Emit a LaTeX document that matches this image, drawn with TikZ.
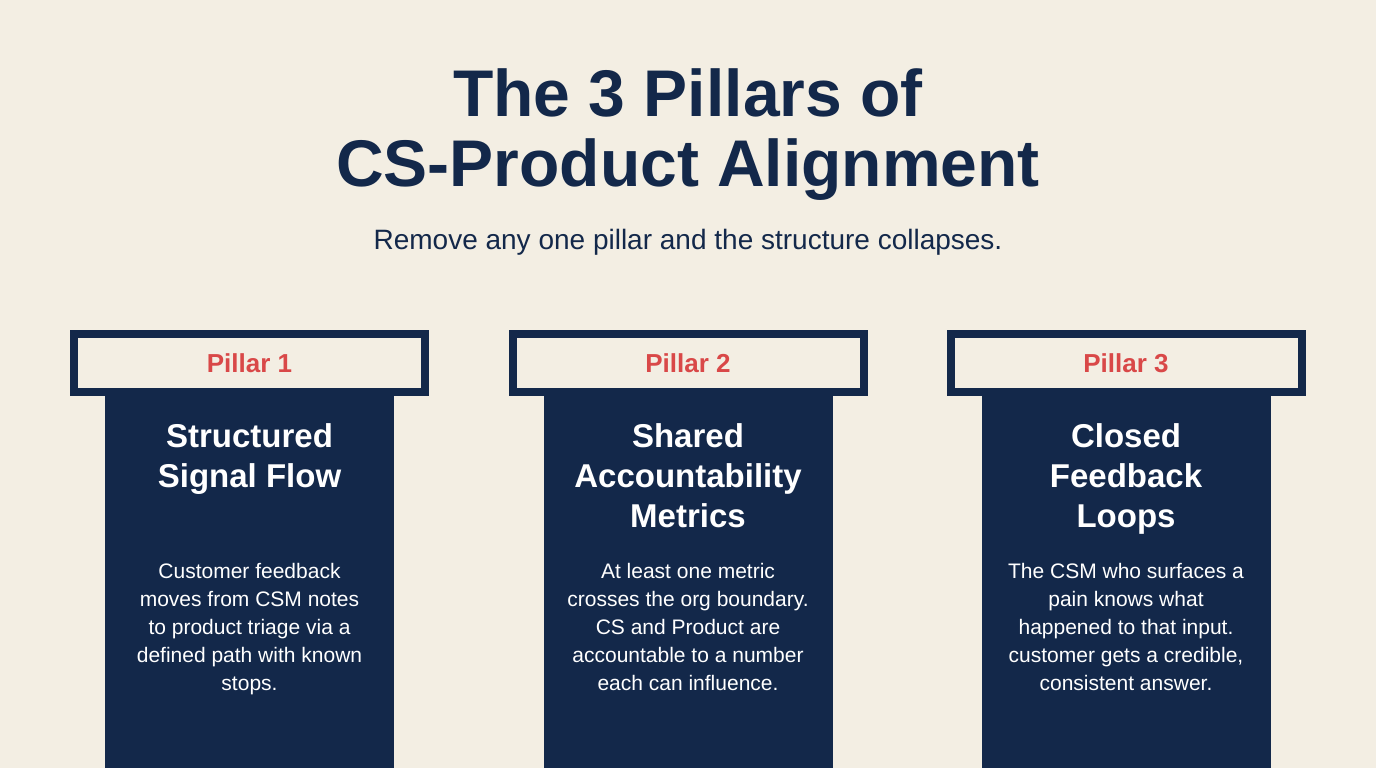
\documentclass[tikz,border=0pt]{standalone}
\usepackage{fontspec}
\setmainfont{Liberation Sans}
\definecolor{bg}{HTML}{F3EEE3}
\definecolor{navy}{HTML}{13284A}
\definecolor{pred}{HTML}{D94848}
\begin{document}
\begin{tikzpicture}[x=1pt,y=-1pt,
  pcap/.style={draw=navy,line width=8pt,fill=bg},
  lab/.style={font=\fontsize{26}{30}\selectfont\bfseries,text=pred},
  head/.style={font=\fontsize{33}{40}\selectfont\bfseries,text=white,align=center},
  body/.style={font=\fontsize{21}{28}\selectfont,text=white,align=center}]
\fill[bg] (0,0) rectangle (1376,768);
\useasboundingbox (0,0) rectangle (1376,768);
\node[font=\fontsize{66}{70}\selectfont\bfseries,text=navy,align=center] (title) at (688,135) {The 3 Pillars of\\CS-Product Alignment};
\node[font=\fontsize{28}{32}\selectfont,text=navy] (sub) at (688,242) {Remove any one pillar and the structure collapses.};
\foreach \cx/\n/\h/\b in {
 249.5/1/{Structured\\Signal Flow}/{Customer feedback\\moves from CSM notes\\to product triage via a\\defined path with known\\stops.},
 688/2/{Shared\\Accountability\\Metrics}/{At least one metric\\crosses the org boundary.\\CS and Product are\\accountable to a number\\each can influence.},
 1126/3/{Closed\\Feedback\\Loops}/{The CSM who surfaces a\\pain knows what\\happened to that input.\\customer gets a credible,\\consistent answer.}}{
  \fill[navy] (\cx-144.5,396) rectangle (\cx+144.5,768);
  \draw[pcap] (\cx-175.5,334) rectangle (\cx+175.5,392);
  \node[lab] (p\n) at (\cx,363) {Pillar \n};
  \node[head,anchor=north] (h\n) at (\cx,420) {\h};
  \node[body,anchor=north] (b\n) at (\cx,560) {\b};
}
\end{tikzpicture}
\end{document}
